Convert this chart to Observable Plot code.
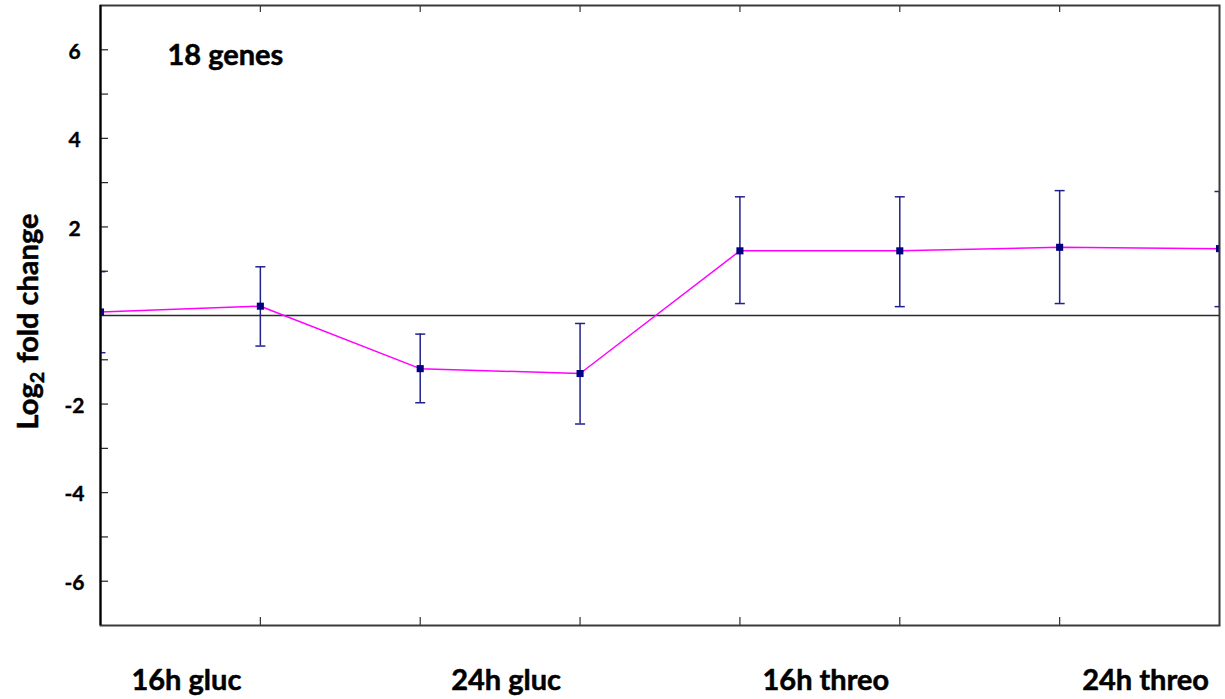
<!DOCTYPE html>
<html>
<head>
<meta charset="utf-8">
<script src="https://cdn.jsdelivr.net/npm/d3@7"></script>
<script src="https://cdn.jsdelivr.net/npm/@observablehq/plot@0.6"></script>
<style>
  html, body { margin: 0; padding: 0; background: #fff; }
  svg { display: block; }
</style>
</head>
<body>
<div id="chart"></div>
<script>
// ---- data ----
const conditions = ["16h gluc", "24h gluc", "16h threo", "24h threo"];
const means      = [0.08, 0.21, -1.20, -1.31, 1.46, 1.46, 1.54, 1.51];
const upper      = [0.99, 1.10, -0.42, -0.18, 2.68, 2.68, 2.82, 2.80];
const lower      = [-0.84, -0.69, -1.97, -2.45, 0.27, 0.20, 0.27, 0.20];
const yLabelTicks = [-6, -4, -2, 2, 4, 6];
const yMinorTicks = [-6, -5, -4, -3, -2, -1, 1, 2, 3, 4, 5, 6];
const xTicks = [1, 2, 3, 4, 5, 6];
const annotation = "18 genes";
const yTitle = "Log2 fold change";

// ---- layout ----
const W = 1225, H = 699;
const mL = 100, mR = 6, mT = 5, mB = 74;
const plotW = W - mL - mR, plotH = H - mT - mB;

const pts = means.map((m, i) => ({i, m, lo: lower[i], hi: upper[i]}));

const navy = "#000080";
const errColor = "#22228a";
const capSymbol = {draw(ctx) { ctx.moveTo(-5, 0); ctx.lineTo(5, 0); }};
const heavy = {fontWeight: "bold", fill: "#000", stroke: "#000", strokeWidth: 0.5};

const chart = Plot.plot({
  width: W, height: H,
  marginLeft: mL, marginRight: mR, marginTop: mT, marginBottom: mB,
  style: {fontFamily: "Lato, sans-serif", fontWeight: "bold", color: "#000", background: "#fff"},
  x: {type: "linear", domain: [0, means.length - 1], axis: null},
  y: {domain: [-7, 7], axis: null},
  marks: [
    // zero line
    Plot.ruleY([0], {stroke: "#2a2a2a", strokeWidth: 1.6}),
    // series line
    Plot.line(pts, {x: "i", y: "m", stroke: "#ff00ff", strokeWidth: 1.5}),
    // error bars
    Plot.ruleX(pts, {x: "i", y1: "lo", y2: "hi", stroke: errColor, strokeWidth: 1.5, clip: true}),
    Plot.dot(pts, {x: "i", y: "hi", symbol: capSymbol, stroke: errColor, strokeWidth: 1.5, r: 5, clip: true}),
    Plot.dot(pts, {x: "i", y: "lo", symbol: capSymbol, stroke: errColor, strokeWidth: 1.5, r: 5, clip: true}),
    // markers
    Plot.dot(pts, {x: "i", y: "m", symbol: "square", r: 4, fill: navy, stroke: null, clip: true}),
    // axis ticks (inside)
    Plot.tickY(yMinorTicks, {y: d => d, stroke: "#222", strokeWidth: 1.2, insetRight: plotW - 8}),
    Plot.tickX(xTicks, {x: d => d, stroke: "#333", strokeWidth: 1.2, insetTop: plotH - 8}),
    Plot.tickX(xTicks, {x: d => d, stroke: "#333", strokeWidth: 1.2, insetBottom: plotH - 7}),
    // y tick labels
    Plot.text(yLabelTicks, {y: d => d, text: d => String(d), frameAnchor: "left", dx: -26, dy: 2,
      textAnchor: "middle", fontSize: 21, ...heavy, strokeWidth: 0.4}),
    // x category labels
    Plot.text(conditions, {x: (d, i) => 2 * i + 0.5, text: d => d, frameAnchor: "bottom", dy: 64,
      textAnchor: "middle", lineAnchor: "bottom", fontSize: 29, dx: 6, ...heavy}),
    // annotation
    Plot.text([annotation], {text: d => d, frameAnchor: "top-left", dx: 67, dy: 59,
      textAnchor: "start", lineAnchor: "bottom", fontSize: 29, ...heavy}),
    // y title
    Plot.text([yTitle], {text: d => d, frameAnchor: "left", dx: -63, dy: 6, rotate: -90,
      textAnchor: "middle", lineAnchor: "bottom", fontSize: 29, ...heavy}),
    // frame
    Plot.frame({stroke: "#3a3a3a", strokeWidth: 2}),
    Plot.ruleX([0], {stroke: "#000", strokeWidth: 2})
  ]
});

// subscript in y title
d3.select(chart).selectAll("text").each(function() {
  if (this.textContent === yTitle) {
    const t = d3.select(this);
    t.text(null);
    t.append("tspan").text("Log");
    t.append("tspan").attr("font-size", "0.68em").attr("dy", 6).text("2");
    t.append("tspan").attr("dy", -6).attr("dx", 9).text("fold change");
  }
});

document.getElementById("chart").appendChild(chart);
</script>
</body>
</html>
